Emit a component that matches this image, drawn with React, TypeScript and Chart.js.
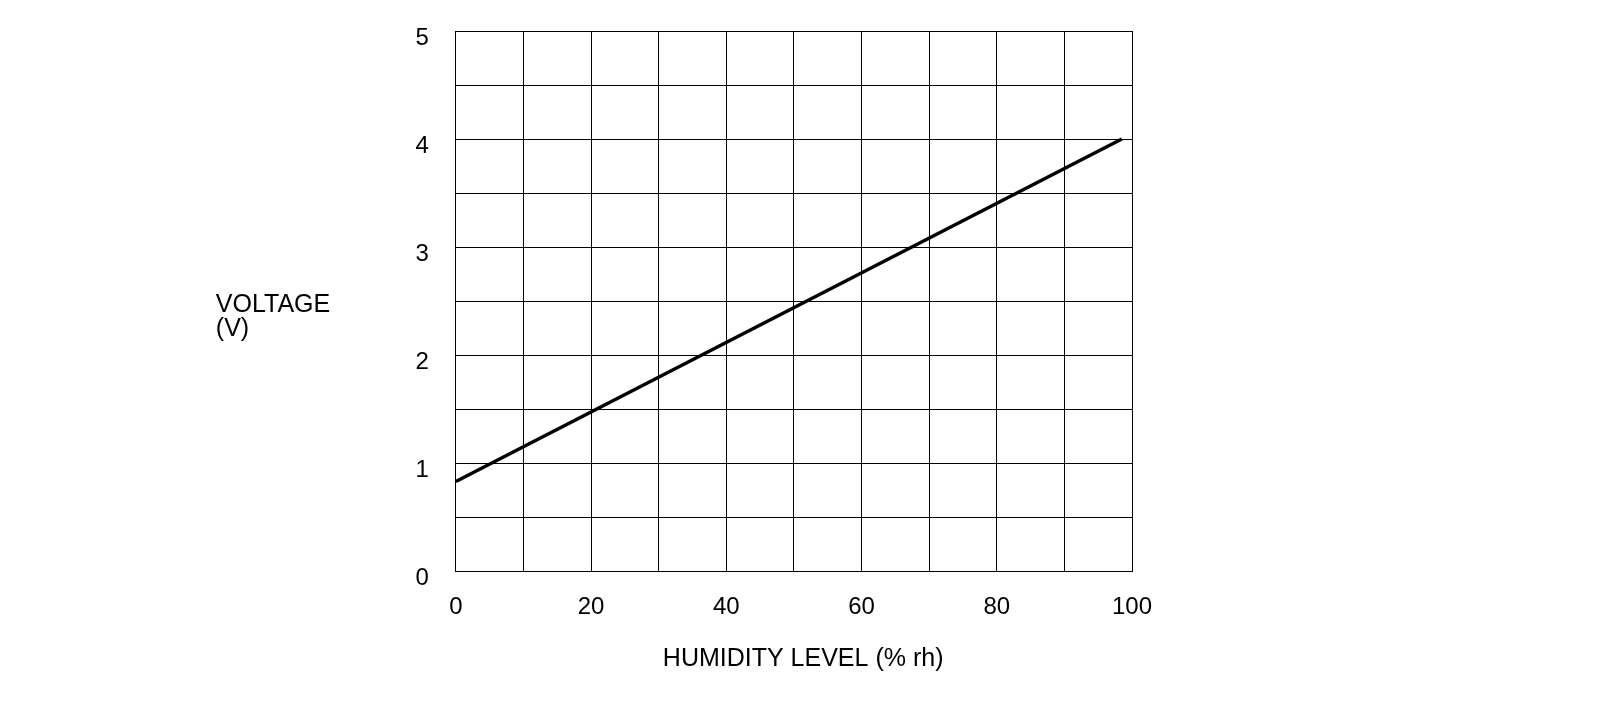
import React, { useEffect, useRef } from "react";
import { Chart, registerables } from "chart.js";

Chart.register(...registerables);

const humidity = [0, 98.5];
const voltage = [0.83, 4.0];
const xTickLabels = [0, 20, 40, 60, 80, 100];
const yTickLabels = [0, 1, 2, 3, 4, 5];
const yTitleLines = ["VOLTAGE", "(V)"];
const xTitle = "HUMIDITY LEVEL (% rh)";

const FONT = "'Liberation Sans', Arial, sans-serif";

const titlePlugin = {
  id: "titles",
  afterDraw(chart: any) {
    const { ctx, chartArea } = chart;
    ctx.save();
    ctx.fillStyle = "#000";
    ctx.font = `25px ${FONT}`;
    ctx.textAlign = "left";
    ctx.textBaseline = "alphabetic";
    const yx = chartArea.left - 240;
    ctx.fillText(yTitleLines[0], yx, chartArea.top + 281);
    ctx.fillText(yTitleLines[1], yx, chartArea.top + 305);
    ctx.fillText(xTitle, chartArea.left + 207, chartArea.bottom + 95);
    ctx.restore();
  },
};

export default function App() {
  const ref = useRef<HTMLCanvasElement | null>(null);
  useEffect(() => {
    if (!ref.current) return;
    const chart = new Chart(ref.current, {
      type: "scatter",
      data: {
        datasets: [
          {
            data: humidity.map((h, i) => ({ x: h, y: voltage[i] })),
            showLine: true,
            borderColor: "#000",
            borderWidth: 3.5,
            pointRadius: 0,
            fill: false,
          },
        ],
      },
      options: {
        animation: false,
        responsive: true,
        maintainAspectRatio: false,
        layout: { padding: { left: 380.5, right: 460, top: 23, bottom: 50 } },
        plugins: { legend: { display: false }, tooltip: { enabled: false } },
        scales: {
          x: {
            type: "linear",
            min: 0,
            max: 100,
            grid: { color: "#000", lineWidth: 1, drawTicks: false },
            border: { color: "#000", width: 1 },
            ticks: {
              stepSize: 10,
              padding: 22,
              color: "#000",
              font: { family: FONT, size: 24 },
              maxRotation: 0,
              autoSkip: false,
              callback: (v: any) => (xTickLabels.includes(Number(v)) ? String(v) : ""),
            },
          },
          y: {
            type: "linear",
            min: 0,
            max: 5,
            afterFit: (scale: any) => {
              scale.paddingTop = 0;
              scale.paddingBottom = 0;
            },
            grid: { color: "#000", lineWidth: 1, drawTicks: false },
            border: { color: "#000", width: 1 },
            ticks: {
              stepSize: 0.5,
              padding: 27,
              labelOffset: 7,
              color: "#000",
              font: { family: FONT, size: 24 },
              autoSkip: false,
              callback: (v: any) => (yTickLabels.includes(Number(v)) ? String(v) : ""),
            },
          },
        },
      },
      plugins: [titlePlugin],
    });
    return () => chart.destroy();
  }, []);
  return (
    <div style={{ position: "relative", width: "1584px", height: "686px" }}>
      <canvas ref={ref} />
    </div>
  );
}
